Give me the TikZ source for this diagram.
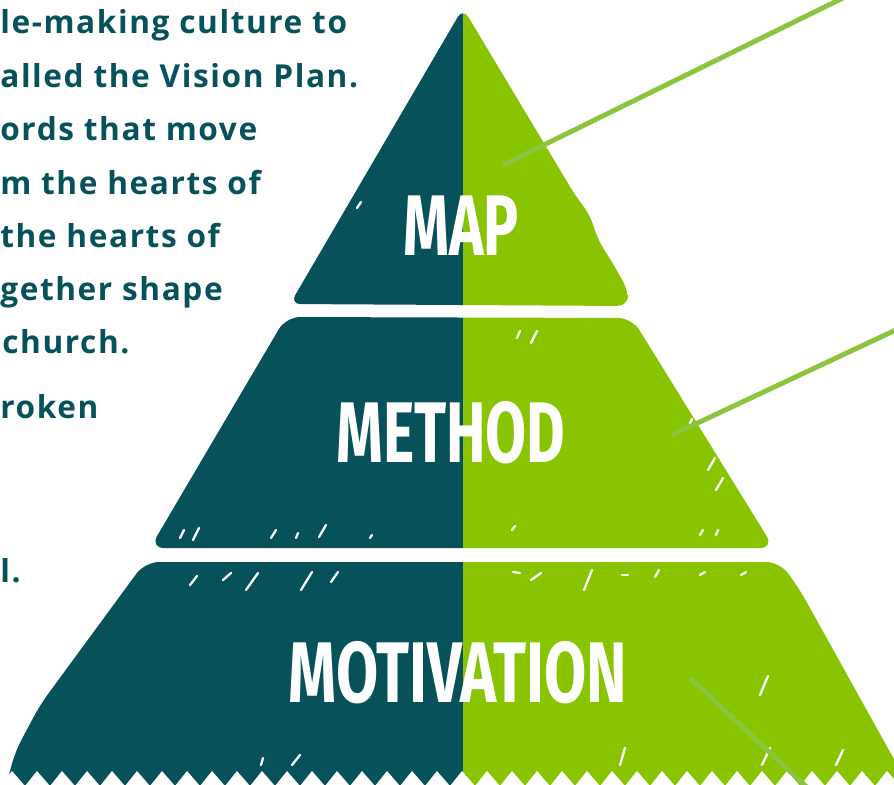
\documentclass[tikz,border=0pt]{standalone}
\usepackage{fontspec}
\setmainfont{Fira Sans}
\newfontfamily\blurbfont{Open Sans}[LetterSpace=5]
\usepackage{xcolor}
\usetikzlibrary{positioning}

\definecolor{tealdark}{HTML}{07515A}
\definecolor{leafgreen}{HTML}{88C400}
\definecolor{pointergreen}{HTML}{8CC43F}

\tikzset{
  blurb/.style={anchor=base west,inner sep=0pt,text=tealdark,
    font=\blurbfont\fontsize{18}{18}\selectfont\bfseries},
  tierlabel/.style={anchor=base,inner sep=0pt,text=white,
    font=\fontsize{49}{49}\selectfont\bfseries},
  pointer/.style={draw=pointergreen,line width=2.8pt},
  scratch/.style={draw=white,line width=1.3pt,line cap=round}
}

\begin{document}
\begin{tikzpicture}[x=0.02cm,y=-0.02cm]
 \useasboundingbox (0,0) rectangle (894,785);
 \clip (0,0) rectangle (894,785);

 % left column of text
 \node[blurb] (line1) at (0,33) {le-making culture to};
 \node[blurb] (line2) at (0,87) {alled the Vision Plan.};
 \node[blurb] (line3) at (0,140) {ords that move};
 \node[blurb] (line4) at (0,194) {m the hearts of};
 \node[blurb] (line5) at (0,247) {the hearts of};
 \node[blurb] (line6) at (0,300) {gether shape};
 \node[blurb] (line7) at (2,353) {church.};
 \node[blurb] (line8) at (0,418) {roken};
 \node[blurb] (line9) at (0,582) {l.};

 % top tier
 \begin{scope}
  \clip[rounded corners=6] (463,8) -- (575,195) -- (590,215) -- (598,240)
    -- (612,262) -- (628,290) -- (628,306) -- (290,304) -- cycle;
  \fill[tealdark] (0,0) rectangle (463,785);
  \fill[leafgreen] (463,0) rectangle (894,785);
 \end{scope}

 % middle tier
 \begin{scope}
  \clip[rounded corners=8] (286,317) -- (632,318) -- (774,548) -- (150,548) -- cycle;
  \fill[tealdark] (0,0) rectangle (463,785);
  \fill[leafgreen] (463,0) rectangle (894,785);
 \end{scope}

 % bottom tier
 \begin{scope}
  \clip[rounded corners=8] (145,562) -- (780,562) -- (800,590) -- (900,770)
    -- (900,790) -- (5,790) -- (15,752) -- (40,705) -- cycle;
  \fill[tealdark] (0,0) rectangle (463,785);
  \fill[leafgreen] (463,0) rectangle (894,785);
 \end{scope}
 \fill[white] (0,786) \foreach \i in {0,...,35} { -- (\i*25+12,771) -- (\i*25+25,786) } -- cycle;

 % rough brush marks
 \foreach \a/\b/\c/\d in {357/208/361/202,
   180/538/184/530, 193/540/199/528, 271/538/276/530, 296/538/298/533,
   319/537/326/525, 370/538/372/535, 512/530/515/526, 700/535/703/530,
   716/535/718/530, 517/338/520/331, 531/343/537/331, 708/470/715/458,
   716/490/723/478, 690/423/692/419,
   190/585/197/576, 223/580/231/573, 246/590/258/573, 301/590/312/572,
   331/582/338/572, 513/572/520/573, 531/580/541/573, 584/590/592/570,
   622/575/628/575, 655/577/659/570, 700/575/705/572, 741/575/746/572,
   760/695/768/676, 620/765/625/748, 762/765/770/748, 836/765/843/750,
   261/765/263/758, 292/765/300/755}
   \draw[scratch] (\a,\b) -- (\c,\d);

 % tier labels
 \node[tierlabel] (map) at (461,255) {\scalebox{0.68}[1]{MAP}};
 \node[tierlabel] (method) at (451,462) {\scalebox{0.69}[1]{METHOD}};
 \node[tierlabel] (motivation) at (458,702) {\scalebox{0.71}[1]{MOTIVATION}};

 % pointer lines
 \coordinate (mapTip) at (503,165);
 \coordinate (mapEnd) at (845,-3);
 \coordinate (methodTip) at (672,435);
 \coordinate (methodEnd) at (900,328);
 \coordinate (motivationTip) at (690,678);
 \coordinate (motivationEnd) at (810,790);
 \draw[pointer] (mapTip) -- (mapEnd);
 \draw[pointer] (methodTip) -- (methodEnd);
 \draw[pointer] (motivationTip) -- (motivationEnd);
\end{tikzpicture}
\end{document}
